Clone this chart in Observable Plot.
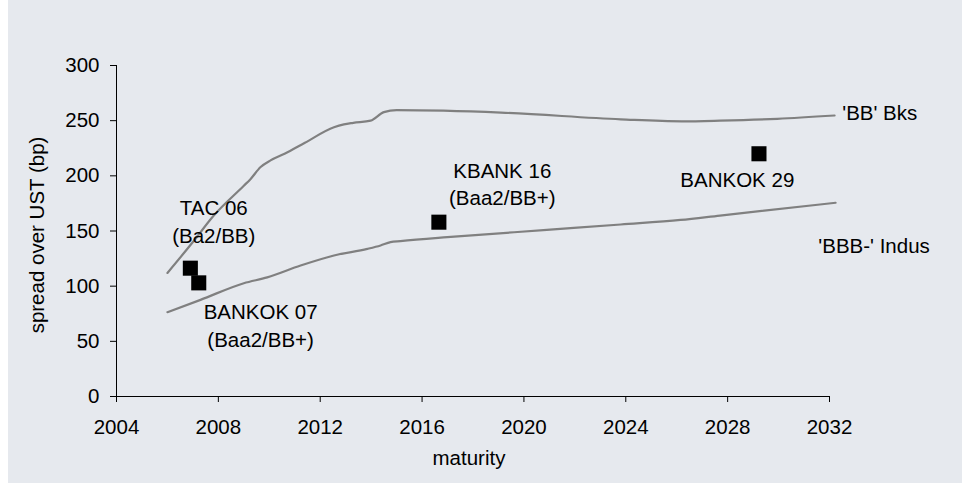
<!DOCTYPE html>
<html>
<head>
<meta charset="utf-8">
<script src="https://cdn.jsdelivr.net/npm/d3@7"></script>
<script src="https://cdn.jsdelivr.net/npm/@observablehq/plot@0.6"></script>
<style>
  html, body { margin: 0; padding: 0; background: #ffffff; }
  #wrap { padding-left: 8px; width: 954px; height: 483px; }
</style>
</head>
<body>
<div id="wrap"></div>
<script>
// 'BB' Bks curve (maturity year, spread bp)
const bbYears  = [2006.0, 2007.0, 2007.82, 2009.0, 2009.26, 2009.66, 2010.05, 2010.6, 2011.4, 2012.54, 2012.93, 2013.3, 2013.98, 2014.5, 2015.0, 2019.1, 2023.8, 2026.2, 2027.7, 2029.95, 2032.2];
const bbValues = [112,    140,    164,     191,    197,     208,     214,     220,    230,    244,     246.6,   248,    250,     257.7,  259.5,  257.3,  251.2,  249.4,  250,    251.7,   254.7];

// 'BBB-' Indus curve
const bbbYears  = [2006.0, 2007.3, 2009.0, 2009.92, 2011.23, 2012.54, 2013.85, 2014.37, 2014.76, 2015.15, 2016.99, 2020.9, 2023.8, 2026.15, 2027.7, 2032.24];
const bbbValues = [76.4,   87.6,   102.7,  108,     118.7,   127.8,   133.8,   136.9,   139.9,   140.8,   144.4,   151,    155.9,  160,     164,    175.6];

// Bonds
const bondNames  = ["TAC 06", "BANKOK 07", "KBANK 16", "BANKOK 29"];
const bondYears  = [2006.9, 2007.23, 2016.66, 2029.23];
const bondSpread = [116.3, 103, 158, 220];

// Annotations (text, anchored in data coordinates)
const noteTexts  = ["TAC 06\n(Ba2/BB)", "BANKOK 07\n(Baa2/BB+)", "KBANK 16\n(Baa2/BB+)", "BANKOK 29"];
const noteYears  = [2007.82, 2009.66, 2019.15, 2028.38];
const noteValues = [159.8, 65.5, 193.5, 197.5];

const seriesNames  = ["'BB' Bks", "'BBB-' Indus"];
const seriesLabelX = [2032.5, 2031.56];
const seriesLabelY = [256.2, 136.2];

const xTicks = [2004, 2008, 2012, 2016, 2020, 2024, 2028, 2032];
const yTicks = [0, 50, 100, 150, 200, 250, 300];

const bb  = bbYears.map((x, i) => ({x, y: bbValues[i]}));
const bbb = bbbYears.map((x, i) => ({x, y: bbbValues[i]}));
const bonds = bondNames.map((n, i) => ({n, x: bondYears[i], y: bondSpread[i]}));
const notes = noteTexts.map((t, i) => ({t, x: noteYears[i], y: noteValues[i]}));
const seriesLabels = seriesNames.map((t, i) => ({t, x: seriesLabelX[i], y: seriesLabelY[i]}));

const FS = 20.5;
const chart = Plot.plot({
  width: 954,
  height: 483,
  marginLeft: 108,
  marginRight: 133,
  marginTop: 65,
  marginBottom: 87,
  style: {
    background: "#e6e9ee",
    fontFamily: "'Liberation Sans', Arial, sans-serif",
    fontSize: FS + "px",
    color: "#000"
  },
  x: {domain: [2004, 2032]},
  y: {domain: [0, 300]},
  marks: [
    Plot.axisX({ticks: xTicks, tickFormat: d => String(d), tickSize: 6, tickPadding: 17, label: null, stroke: "#000"}),
    Plot.axisY({ticks: yTicks, tickFormat: d => String(d), tickSize: 6, tickPadding: 11, label: null, stroke: "#000"}),
    Plot.ruleY([0], {stroke: "#000", strokeWidth: 1}),
    Plot.ruleX([2004], {stroke: "#000", strokeWidth: 1}),
    Plot.line(bb,  {x: "x", y: "y", stroke: "#808080", strokeWidth: 2.2, curve: "monotone-x"}),
    Plot.line(bbb, {x: "x", y: "y", stroke: "#808080", strokeWidth: 2.2, curve: "monotone-x"}),
    Plot.dot(bonds, {x: "x", y: "y", symbol: "square", r: 8.5, fill: "#000", stroke: null}),
    Plot.text(notes, {x: "x", y: "y", text: "t", fontSize: FS, fill: "#000", lineHeight: 1.33, textAnchor: "middle"}),
    Plot.text(seriesLabels, {x: "x", y: "y", text: "t", fontSize: FS, fill: "#000", textAnchor: "start"}),
    Plot.text(["spread over UST (bp)"], {frameAnchor: "left", rotate: -90, dx: -79, dy: 4, textAnchor: "middle", lineAnchor: "middle", fontSize: FS, fill: "#000"}),
    Plot.text(["maturity"], {frameAnchor: "bottom", dy: 62, dx: -4, lineAnchor: "middle", fontSize: FS, fill: "#000"})
  ]
});
document.getElementById("wrap").appendChild(chart);
</script>
</body>
</html>
